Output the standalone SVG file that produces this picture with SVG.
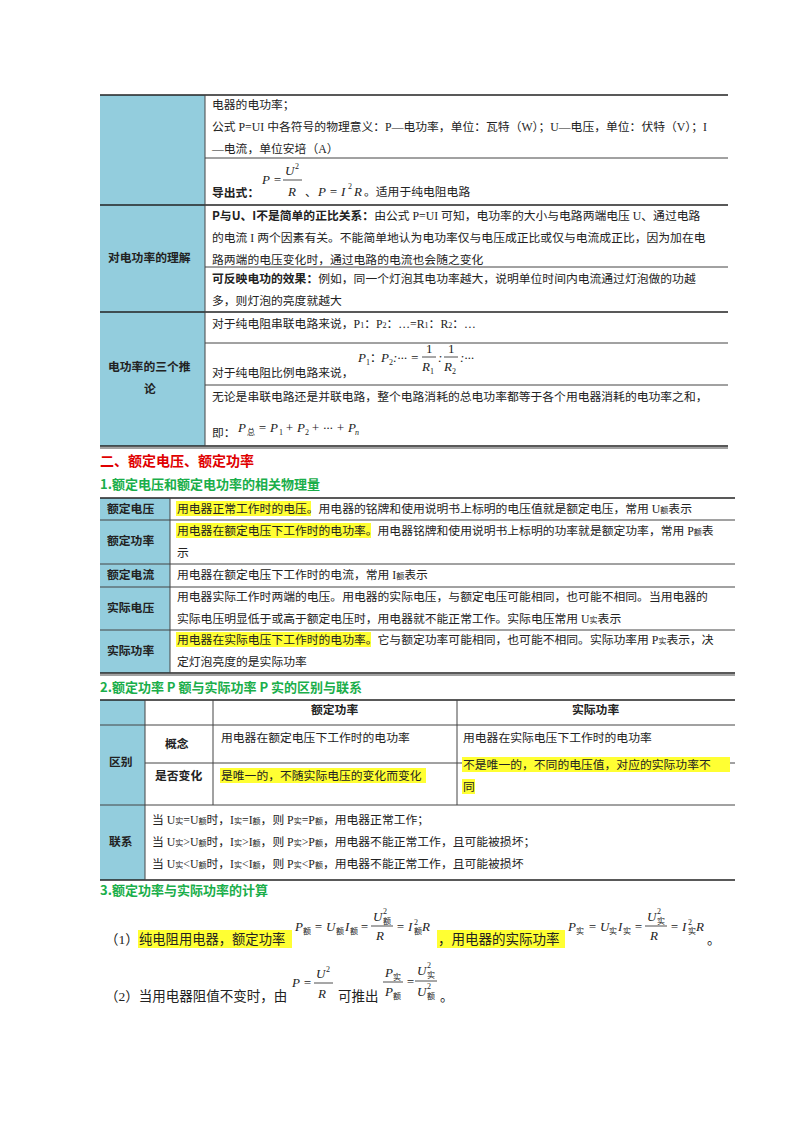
<svg xmlns="http://www.w3.org/2000/svg" width="800" height="1132" viewBox="0 0 800 1132">
<style>
text{font-family:"Liberation Serif","Noto Sans CJK SC",serif;font-size:11.8px;fill:#222}
.b{font-weight:bold;font-family:"Noto Sans CJK SC",sans-serif}
.h{font-family:"Noto Sans CJK SC",sans-serif;font-weight:bold;font-size:13px}
.m{font-family:"Liberation Serif",serif;font-style:italic;font-size:13px}
.s{font-size:8px}
.f{font-size:13.5px}
.ln{stroke:#444;stroke-width:1}
.tk{stroke:#222;stroke-width:1.6}
.hl{fill:#ffff33}
.bl{fill:#93cddd}
</style>
<rect width="800" height="1132" fill="#fff"/>
<g id="table1">
<rect class="bl" x="100" y="95" width="105" height="351"/>
<line class="tk" x1="100" y1="95" x2="728" y2="95"/>
<line class="ln" x1="205" y1="158" x2="728" y2="158"/>
<line class="tk" x1="100" y1="205" x2="728" y2="205"/>
<line class="ln" x1="205" y1="267" x2="728" y2="267"/>
<line class="tk" x1="100" y1="312" x2="728" y2="312"/>
<line class="ln" x1="205" y1="343" x2="728" y2="343"/>
<line class="ln" x1="205" y1="385" x2="728" y2="385"/>
<line class="tk" x1="100" y1="446" x2="728" y2="446"/>
<line class="ln" x1="100" y1="448" x2="728" y2="448"/>
<line class="ln" x1="205" y1="95" x2="205" y2="446"/>
<text x="212" y="109">电器的电功率；</text>
<text x="212" y="131">公式 P=UI 中各符号的物理意义：P—电功率，单位：瓦特（W）；U—电压，单位：伏特（V）；I</text>
<text x="212" y="153">—电流，单位安培（A）</text>
<text x="212" y="197" class="b">导出式：</text>
<text x="262" y="184" class="m">P =</text>
<text x="285" y="175" class="m">U</text><text x="295" y="169" class="s">2</text>
<line x1="283" y1="180" x2="302" y2="180" stroke="#222" stroke-width="0.8"/>
<text x="288" y="196" class="m">R</text>
<text x="305" y="196">、</text>
<text x="318" y="196" class="m">P = I</text><text x="348" y="189" class="s">2</text><text x="354" y="196" class="m">R</text>
<text x="364" y="196">。适用于纯电阻电路</text>
<text x="108" y="262" class="b">对电功率的理解</text>
<text x="212" y="220"><tspan class="b">P与U、I不是简单的正比关系：</tspan>由公式 P=UI 可知，电功率的大小与电路两端电压 U、通过电路</text>
<text x="212" y="242">的电流 I 两个因素有关。不能简单地认为电功率仅与电压成正比或仅与电流成正比，因为加在电</text>
<text x="212" y="264">路两端的电压变化时，通过电路的电流也会随之变化</text>
<text x="212" y="283"><tspan class="b">可反映电功的效果：</tspan>例如，同一个灯泡其电功率越大，说明单位时间内电流通过灯泡做的功越</text>
<text x="212" y="305">多，则灯泡的亮度就越大</text>
<text x="108" y="371" class="b">电功率的三个推</text>
<text x="144" y="393" class="b">论</text>
<text x="212" y="328">对于纯电阻串联电路来说，P<tspan class="s">1</tspan>：P<tspan class="s">2</tspan>：…=R<tspan class="s">1</tspan>：R<tspan class="s">2</tspan>：…</text>
<text x="212" y="377">对于纯电阻比例电路来说，</text>
<text x="358" y="362" class="m">P</text><text x="366" y="365" class="s">1</text><text x="370" y="362">：</text>
<text x="381" y="362" class="m">P</text><text x="389" y="365" class="s">2</text><text x="393" y="362" class="m">:··· =</text>
<text x="426" y="353" class="m" style="font-style:normal">1</text>
<line x1="422" y1="357" x2="436" y2="357" stroke="#222" stroke-width="0.8"/>
<text x="422" y="371" class="m">R</text><text x="430" y="374" class="s">1</text>
<text x="438" y="362" class="m">:</text>
<text x="448" y="353" class="m" style="font-style:normal">1</text>
<line x1="444" y1="357" x2="458" y2="357" stroke="#222" stroke-width="0.8"/>
<text x="444" y="371" class="m">R</text><text x="452" y="374" class="s">2</text>
<text x="460" y="362" class="m">:···</text>
<text x="212" y="401">无论是串联电路还是并联电路，整个电路消耗的总电功率都等于各个用电器消耗的电功率之和，</text>
<text x="212" y="437">即：</text>
<text x="238" y="432" class="m">P</text><text x="247" y="435" class="s">总</text>
<text x="258" y="432" class="m">= P</text><text x="279" y="435" class="s">1</text><text x="285" y="432" class="m">+ P</text><text x="305" y="435" class="s">2</text><text x="311" y="432" class="m">+ ··· + P</text><text x="355" y="435" class="s" font-style="italic">n</text>
</g>
<text x="100" y="466" class="h" style="fill:#e00000;font-size:14px">二、额定电压、额定功率</text>
<text x="100" y="489" class="h" style="fill:#1aae4a">1.额定电压和额定电功率的相关物理量</text>
<g id="table2">
<rect class="bl" x="100" y="498" width="70" height="175"/>
<line class="tk" x1="100" y1="498" x2="735" y2="498"/>
<line class="ln" x1="100" y1="520" x2="735" y2="520"/>
<line class="ln" x1="100" y1="564" x2="735" y2="564"/>
<line class="ln" x1="100" y1="587" x2="735" y2="587"/>
<line class="ln" x1="100" y1="630" x2="735" y2="630"/>
<line class="tk" x1="100" y1="673" x2="735" y2="673"/>
<line class="ln" x1="100" y1="675" x2="735" y2="675"/>
<line class="ln" x1="170" y1="498" x2="170" y2="673"/>
<text x="107" y="513" class="b">额定电压</text>
<text x="107" y="545" class="b">额定功率</text>
<text x="107" y="579" class="b">额定电流</text>
<text x="107" y="612" class="b">实际电压</text>
<text x="107" y="655" class="b">实际功率</text>
<rect class="hl" x="176" y="501" width="135" height="15"/>
<text x="177" y="513">用电器正常工作时的电压。用电器的铭牌和使用说明书上标明的电压值就是额定电压，常用 U<tspan class="s">额</tspan>表示</text>
<rect class="hl" x="176" y="523" width="195" height="15"/>
<text x="177" y="535">用电器在额定电压下工作时的电功率。用电器铭牌和使用说明书上标明的功率就是额定功率，常用 P<tspan class="s">额</tspan>表</text>
<text x="177" y="557">示</text>
<text x="177" y="579">用电器在额定电压下工作时的电流，常用 I<tspan class="s">额</tspan>表示</text>
<text x="177" y="601">用电器实际工作时两端的电压。用电器的实际电压，与额定电压可能相同，也可能不相同。当用电器的</text>
<text x="177" y="623">实际电压明显低于或高于额定电压时，用电器就不能正常工作。实际电压常用 U<tspan class="s">实</tspan>表示</text>
<rect class="hl" x="176" y="632" width="195" height="15"/>
<text x="177" y="644">用电器在实际电压下工作时的电功率。它与额定功率可能相同，也可能不相同。实际功率用 P<tspan class="s">实</tspan>表示，决</text>
<text x="177" y="666">定灯泡亮度的是实际功率</text>
</g>
<text x="100" y="692" class="h" style="fill:#1aae4a">2.额定功率 P 额与实际功率 P 实的区别与联系</text>
<g id="table3">
<rect class="bl" x="100" y="700" width="45" height="180"/>
<line class="tk" x1="100" y1="700" x2="735" y2="700"/>
<line class="ln" x1="100" y1="725" x2="735" y2="725"/>
<line class="ln" x1="145" y1="763" x2="735" y2="763"/>
<line class="ln" x1="100" y1="805" x2="735" y2="805"/>
<line class="tk" x1="100" y1="880" x2="735" y2="880"/>
<line class="ln" x1="145" y1="700" x2="145" y2="880"/>
<line class="ln" x1="213" y1="700" x2="213" y2="805"/>
<line class="ln" x1="457" y1="700" x2="457" y2="805"/>
<text x="311" y="714" class="b">额定功率</text>
<text x="572" y="714" class="b">实际功率</text>
<text x="109" y="766" class="b">区别</text>
<text x="165" y="748" class="b">概念</text>
<text x="155" y="780" class="b">是否变化</text>
<text x="109" y="846" class="b">联系</text>
<text x="221" y="742">用电器在额定电压下工作时的电功率</text>
<text x="463" y="742">用电器在实际电压下工作时的电功率</text>
<rect class="hl" x="220" y="768" width="206" height="15"/>
<text x="221" y="780">是唯一的，不随实际电压的变化而变化</text>
<rect class="hl" x="462" y="757" width="268" height="15"/>
<rect class="hl" x="462" y="779" width="13" height="15"/>
<text x="463" y="769">不是唯一的，不同的电压值，对应的实际功率不</text>
<text x="463" y="791">同</text>
<text x="152" y="824">当 U<tspan class="s">实</tspan>=U<tspan class="s">额</tspan>时，I<tspan class="s">实</tspan>=I<tspan class="s">额</tspan>，则 P<tspan class="s">实</tspan>=P<tspan class="s">额</tspan>，用电器正常工作；</text>
<text x="152" y="846">当 U<tspan class="s">实</tspan>&gt;U<tspan class="s">额</tspan>时，I<tspan class="s">实</tspan>&gt;I<tspan class="s">额</tspan>，则 P<tspan class="s">实</tspan>&gt;P<tspan class="s">额</tspan>，用电器不能正常工作，且可能被损坏；</text>
<text x="152" y="868">当 U<tspan class="s">实</tspan>&lt;U<tspan class="s">额</tspan>时，I<tspan class="s">实</tspan>&lt;I<tspan class="s">额</tspan>，则 P<tspan class="s">实</tspan>&lt;P<tspan class="s">额</tspan>，用电器不能正常工作，且可能被损坏</text>
</g>
<text x="100" y="895" class="h" style="fill:#1aae4a">3.额定功率与实际功率的计算</text>
<g id="formulas">
<text x="105" y="944" class="f">（1）</text>
<rect class="hl" x="138" y="930" width="154" height="18"/>
<text x="139" y="944" class="f" style="font-size:13.3px">纯电阻用电器，额定功率</text>
<text x="295" y="931" class="m">P</text><text x="303" y="934" class="s">额</text>
<text x="314" y="931" class="m">= U</text><text x="336" y="934" class="s">额</text><text x="345" y="931" class="m">I</text><text x="350" y="934" class="s">额</text><text x="360" y="931" class="m">=</text>
<text x="373" y="921" class="m">U</text><text x="383" y="914" class="s">2</text><text x="383" y="924" class="s">额</text>
<line x1="371" y1="926" x2="393" y2="926" stroke="#222" stroke-width="0.8"/>
<text x="376" y="940" class="m">R</text>
<text x="396" y="931" class="m">= I</text><text x="414" y="925" class="s">2</text><text x="414" y="934" class="s">额</text><text x="422" y="931" class="m">R</text>
<rect class="hl" x="437" y="930" width="128" height="18"/>
<text x="438" y="944" class="f">，用电器的实际功率</text>
<text x="568" y="931" class="m">P</text><text x="576" y="934" class="s">实</text>
<text x="588" y="931" class="m">= U</text><text x="609" y="934" class="s">实</text><text x="618" y="931" class="m">I</text><text x="623" y="934" class="s">实</text><text x="634" y="931" class="m">=</text>
<text x="647" y="921" class="m">U</text><text x="657" y="914" class="s">2</text><text x="657" y="924" class="s">实</text>
<line x1="645" y1="926" x2="667" y2="926" stroke="#222" stroke-width="0.8"/>
<text x="650" y="940" class="m">R</text>
<text x="670" y="931" class="m">= I</text><text x="688" y="925" class="s">2</text><text x="688" y="934" class="s">实</text><text x="696" y="931" class="m">R</text>
<text x="707" y="944" class="f">。</text>
<text x="105" y="1001" class="f">（2）当用电器阻值不变时，由</text>
<text x="292" y="987" class="m">P =</text>
<text x="316" y="978" class="m">U</text><text x="326" y="972" class="s">2</text>
<line x1="314" y1="983" x2="333" y2="983" stroke="#222" stroke-width="0.8"/>
<text x="318" y="998" class="m">R</text>
<text x="338" y="1001" class="f">可推出</text>
<text x="385" y="977" class="m">P</text><text x="393" y="980" class="s">实</text>
<line x1="383" y1="982" x2="403" y2="982" stroke="#222" stroke-width="0.8"/>
<text x="385" y="996" class="m">P</text><text x="393" y="999" class="s">额</text>
<text x="406" y="986" class="m">=</text>
<text x="417" y="975" class="m">U</text><text x="427" y="968" class="s">2</text><text x="427" y="978" class="s">实</text>
<line x1="415" y1="981" x2="437" y2="981" stroke="#222" stroke-width="0.8"/>
<text x="417" y="996" class="m">U</text><text x="427" y="989" class="s">2</text><text x="427" y="999" class="s">额</text>
<text x="440" y="1001" class="f">。</text>
</g>
</svg>
